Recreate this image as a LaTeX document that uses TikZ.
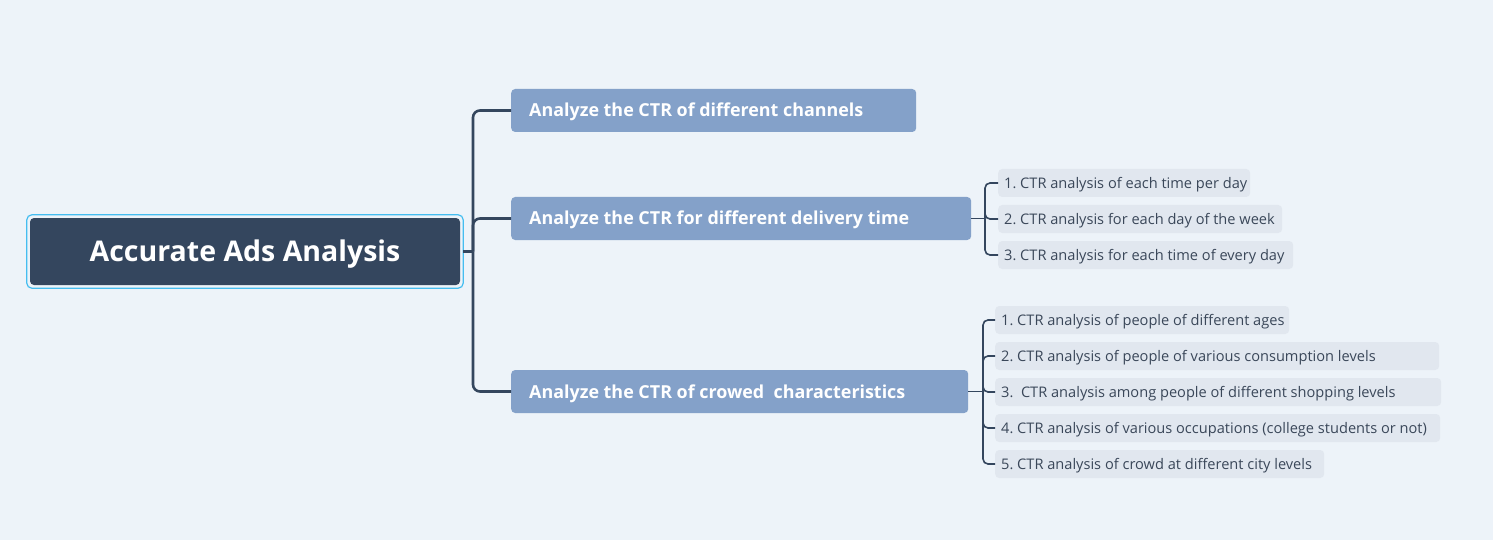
\documentclass[tikz,border=0pt]{standalone}
\usepackage{fontspec}
\setmainfont{Open Sans}
\usetikzlibrary{positioning}
\definecolor{bgcol}{HTML}{EDF3F9}
\definecolor{rootcol}{HTML}{34465E}
\definecolor{rimcol}{HTML}{45BDF0}
\definecolor{maincol}{HTML}{84A1C9}
\definecolor{subcol}{HTML}{E1E7EF}
\definecolor{subtext}{HTML}{3A4759}
\frenchspacing
\newcommand{\padtext}[2]{\makebox[#1][l]{#2}}

\begin{document}
\begin{tikzpicture}[x=1pt,y=-1pt,
	rootbox/.style={fill=rootcol, text=white, rounded corners=4pt, minimum width=430pt, minimum height=67pt, text height=20.6pt, text depth=0pt, font=\fontsize{28.5}{32}\selectfont\bfseries},
	mainbox/.style={fill=maincol, text=white, rounded corners=4pt, anchor=west, minimum height=43pt, inner xsep=18pt, text height=13pt, text depth=0pt, font=\fontsize{17.9}{20}\selectfont\bfseries},
	subbox/.style={fill=subcol, text=subtext, rounded corners=4pt, anchor=west, minimum height=28pt, inner xsep=6pt, text height=10.6pt, text depth=0pt, font=\fontsize{14.6}{16}\selectfont},
	trunk/.style={draw=rootcol, line width=2.6pt, rounded corners=7pt},
	twig/.style={draw=rootcol, line width=1.6pt, rounded corners=5pt}]
	\fill[bgcol] (0,0) rectangle (1493,540);
	\useasboundingbox (0,0) rectangle (1493,540);
	% root
	\node[rootbox] (root) at (245,251.5) {Accurate Ads Analysis};
	\draw[rimcol, line width=1.2pt, rounded corners=5pt] ([shift={(-3,-3)}]root.north west) rectangle ([shift={(3,3)}]root.south east);
	% main branches
	\node[mainbox] (chan) at (511,110.5) {\padtext{369pt}{Analyze the CTR of different channels}};
	\node[mainbox] (time) at (511,218.5) {\padtext{424pt}{Analyze the CTR for different delivery time}};
	\node[mainbox] (crowd) at (511,391.5) {\padtext{421pt}{Analyze the CTR of crowed\ \ characteristics}};
	% delivery time
	\node[subbox] (t1) at (998,183) {\padtext{240pt}{1. CTR analysis of each time per day}};
	\node[subbox] (t2) at (998,219) {\padtext{272pt}{2. CTR analysis for each day of the week}};
	\node[subbox] (t3) at (998,255) {\padtext{283pt}{3. CTR analysis for each time of every day}};
	% crowd
	\node[subbox] (c1) at (995,320) {\padtext{282pt}{1. CTR analysis of people of different ages}};
	\node[subbox] (c2) at (995,356) {\padtext{432pt}{2. CTR analysis of people of various consumption levels}};
	\node[subbox] (c3) at (995,392) {\padtext{434pt}{3.\ \ CTR analysis among people of different shopping levels}};
	\node[subbox] (c4) at (995,428) {\padtext{433pt}{4. CTR analysis of various occupations (college students or not)}};
	\node[subbox] (c5) at (995,464) {\padtext{317pt}{5. CTR analysis of crowd at different city levels}};
	% connectors
	\coordinate (rootfork) at (473,251.5);
	\coordinate (timefork) at (985,218.5);
	\coordinate (crowdfork) at (983,391.5);
	\draw[trunk] ([xshift=3pt]root.east) -- (rootfork);
	\foreach \b in {chan,time,crowd}
		\draw[trunk] (rootfork) |- (\b.west);
	\draw[twig] (time.east) -- (timefork);
	\foreach \s in {t1,t2,t3}
		\draw[twig] (timefork) |- (\s.west);
	\draw[twig] (crowd.east) -- (crowdfork);
	\foreach \s in {c1,c2,c3,c4,c5}
		\draw[twig] (crowdfork) |- (\s.west);
\end{tikzpicture}
\end{document}
